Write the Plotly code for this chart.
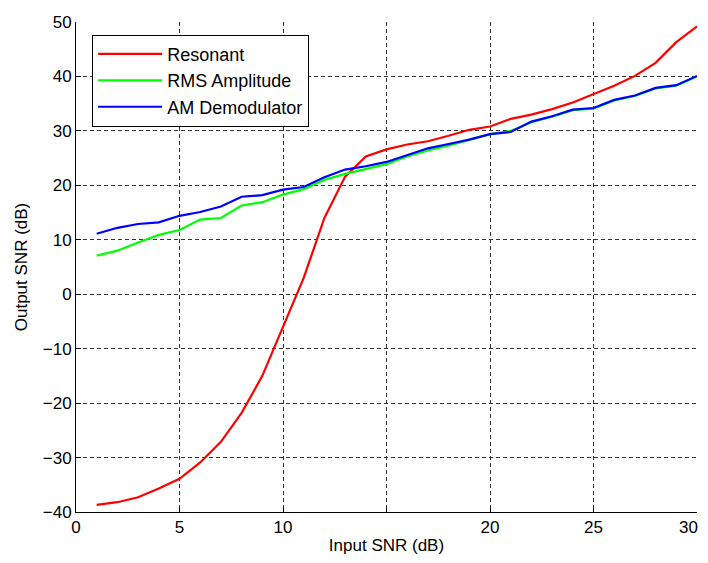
import plotly.graph_objects as go

x_snr = list(range(1, 31))

resonant = [-38.7, -38.2, -37.3, -35.7, -33.9, -30.9, -27.1, -21.8, -15.0, -6.0,
            3.0, 14.0, 21.6, 25.3, 26.6, 27.5, 28.1, 29.1, 30.2, 30.8,
            32.2, 33.0, 34.0, 35.2, 36.8, 38.3, 40.1, 42.5, 46.3, 49.2]

rms_amplitude = [7.1, 8.0, 9.5, 10.9, 11.8, 13.7, 14.0, 16.3, 16.9, 18.3,
                 19.3, 21.0, 22.1, 23.0, 23.9, 25.3, 26.4, 27.3, 28.3, 29.4,
                 30.0, 31.6, 32.6, 33.8, 34.1, 35.6, 36.4, 37.8, 38.3, 40.0]

am_demodulator = [11.1, 12.2, 12.9, 13.2, 14.4, 15.1, 16.1, 17.9, 18.2, 19.2,
                  19.7, 21.5, 22.9, 23.5, 24.3, 25.6, 26.8, 27.6, 28.4, 29.4,
                  29.8, 31.7, 32.7, 33.9, 34.2, 35.7, 36.5, 37.9, 38.4, 40.1]

x_tickvals = [0, 5, 10, 15, 20, 25, 30]
# trailing em space keeps the last label inside the visible page
x_ticktext = ["0", "5", "10", "", "20", "25", "30\u2003"]
y_tickvals = [-40, -30, -20, -10, 0, 10, 20, 30, 40, 50]

font_family = "Liberation Sans, Arial, Helvetica, sans-serif"
fs = 17

fig = go.Figure()
fig.add_trace(go.Scatter(x=x_snr, y=resonant, mode="lines", name="Resonant",
                         legendgroup="a", line=dict(color="#ff0000", width=2.2)))
fig.add_trace(go.Scatter(x=x_snr, y=rms_amplitude, mode="lines", name="RMS Amplitude",
                         legendgroup="b", line=dict(color="#00ff00", width=2.2)))
fig.add_trace(go.Scatter(x=x_snr, y=am_demodulator, mode="lines", name="AM Demodulator",
                         legendgroup="c", line=dict(color="#0000ff", width=2.2)))

axis_common = dict(
    showgrid=True, gridcolor="#333333", gridwidth=1, griddash="4px,3px",
    showline=True, linecolor="black", linewidth=1, mirror=False,
    ticks="inside", ticklen=5, tickcolor="black",
    zeroline=False, automargin=False, ticklabeloverflow="allow",
    tickfont=dict(family=font_family, size=fs, color="black"),
)

fig.update_xaxes(range=[0, 30], tickvals=x_tickvals, ticktext=x_ticktext,
                 title=dict(text="Input SNR (dB)", standoff=4,
                            font=dict(family=font_family, size=fs, color="black")),
                 **axis_common)
fig.update_yaxes(range=[-40, 50], tickvals=y_tickvals,
                 title=dict(text="Output SNR (dB)", standoff=10,
                            font=dict(family=font_family, size=fs, color="black")),
                 **axis_common)

# page body has an 8px margin: shrink the figure so the page does not overflow
fig.update_layout(
    width=700, height=547,
    margin=dict(l=68, r=11, t=14, b=43),
    paper_bgcolor="white", plot_bgcolor="white",
    font=dict(family=font_family, size=fs, color="black"),
    showlegend=True,
    legend=dict(x=0.026, y=0.974, xanchor="left", yanchor="top",
                bgcolor="white", bordercolor="black", borderwidth=1,
                font=dict(family=font_family, size=18, color="black"),
                traceorder="grouped", tracegroupgap=0,
                itemwidth=64),
)

fig.write_html("out.html")
